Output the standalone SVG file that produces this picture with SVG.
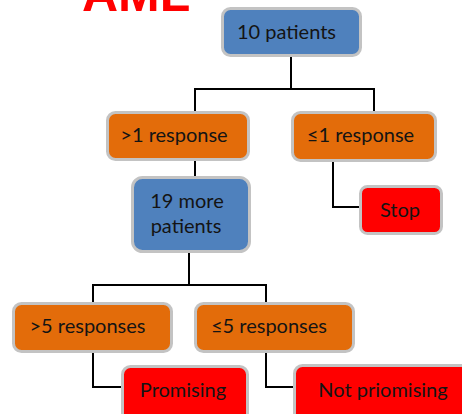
<svg xmlns="http://www.w3.org/2000/svg" width="462" height="414" viewBox="0 0 462 414">
  <style>
    .box { stroke: #c3c3c3; stroke-width: 3; }
    .blue { fill: #4f81bd; }
    .orange { fill: #e36c0a; }
    .red { fill: #ff0000; }
    .lbl { font-family: Lato, "Open Sans", sans-serif; font-size: 20px; fill: #141414; text-anchor: middle; }
    .wire { fill: none; stroke: #000; stroke-width: 2; }
    .title { font-family: "Liberation Sans", Arial, sans-serif; font-weight: bold; font-size: 50px; fill: #ff0000; }
  </style>
  <rect width="462" height="414" fill="#fff"/>

  <text class="title" x="82" y="11">AML</text>

  <g id="connectors">
    <polyline class="wire" points="291,57 291,89"/>
    <polyline class="wire" points="195,111 195,89 374,89 374,111"/>
    <polyline class="wire" points="195,161 195,177"/>
    <polyline class="wire" points="333,161 333,207 360,207"/>
    <polyline class="wire" points="189,253 189,285"/>
    <polyline class="wire" points="93,303 93,285 266,285 266,303"/>
    <polyline class="wire" points="93,352 93,387 122,387"/>
    <polyline class="wire" points="266,352 266,387 294,387"/>
  </g>

  <g id="n-start">
    <rect class="box blue" x="222.5" y="8.5" width="138" height="47" rx="8"/>
    <text class="lbl" x="286.5" y="39">10 patients</text>
  </g>
  <g id="n-gt1">
    <rect class="box orange" x="107.5" y="112.5" width="141" height="47" rx="8"/>
    <text class="lbl" x="174" y="142">&gt;1 response</text>
  </g>
  <g id="n-le1">
    <rect class="box orange" x="292.5" y="112.5" width="143" height="48" rx="8"/>
    <text class="lbl" x="360.5" y="142">≤1 response</text>
  </g>
  <g id="n-more">
    <rect class="box blue" x="132.5" y="177.5" width="117" height="74" rx="10"/>
    <text class="lbl" x="187" y="208">19 more</text>
    <text class="lbl" x="186" y="233">patients</text>
  </g>
  <g id="n-stop">
    <rect class="box red" x="360.5" y="186.5" width="81" height="47" rx="7"/>
    <text class="lbl" x="400" y="217">Stop</text>
  </g>
  <g id="n-gt5">
    <rect class="box orange" x="13.5" y="303.5" width="158" height="48" rx="8"/>
    <text class="lbl" x="87.5" y="333">&gt;5 responses</text>
  </g>
  <g id="n-le5">
    <rect class="box orange" x="195.5" y="303.5" width="158" height="48" rx="8"/>
    <text class="lbl" x="269" y="333">≤5 responses</text>
  </g>
  <g id="n-promising">
    <rect class="box red" x="122.5" y="366.5" width="125" height="60" rx="8"/>
    <text class="lbl" x="183" y="397">Promising</text>
  </g>
  <g id="n-not">
    <rect class="box red" x="294.5" y="365.5" width="180" height="60" rx="8"/>
    <text class="lbl" x="383" y="397">Not priomising</text>
  </g>
</svg>
